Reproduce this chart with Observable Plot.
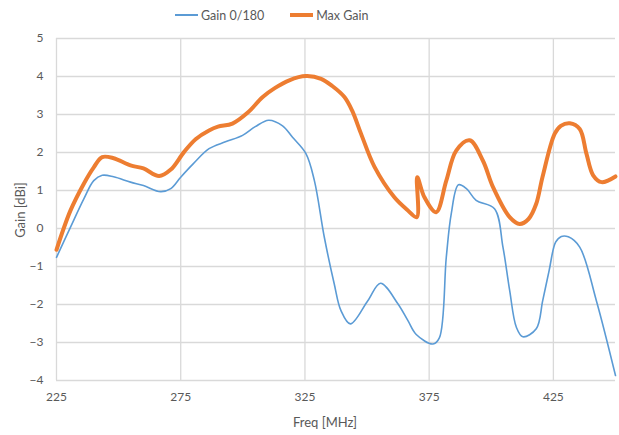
<!DOCTYPE html>
<html>
<head>
<meta charset="utf-8">
<script src="https://cdn.jsdelivr.net/npm/d3@7"></script>
<script src="https://cdn.jsdelivr.net/npm/@observablehq/plot@0.6"></script>
<style>
  html, body { margin: 0; padding: 0; background: #fff; }
  #wrap { position: relative; width: 619px; height: 435px; font-family: Lato, "Open Sans", sans-serif; color: #595959; }
  #legend { height: 30px; display: flex; justify-content: flex-start; align-items: center; font-size: 12.5px; padding-left: 175px; box-sizing: border-box; }
  .item { display: flex; align-items: center; margin-right: 26px; }
  .sw { width: 23px; margin-right: 3px; }
  #ylab { position: absolute; left: 20px; top: 210px; transform: translate(-50%, -50%) rotate(-90deg); font-size: 13px; white-space: nowrap; }
  #xlab { position: absolute; left: 325px; top: 422px; transform: translate(-50%, -50%); font-size: 13px; white-space: nowrap; }
</style>
</head>
<body>
<div id="wrap">
  <div id="legend"></div>
  <div id="chart"></div>
  <div id="ylab">Gain [dBi]</div>
  <div id="xlab">Freq [MHz]</div>
</div>
<script>
const seriesNames = ["Gain 0/180", "Max Gain"];
const seriesColors = ["#5b9bd5", "#ed7d31"];
const seriesWidths = [1.6, 4];

const gainFreq = [225, 230.6, 236, 240, 243.4, 248, 254.8, 260, 266.9, 271, 275, 280, 286.4, 293, 299.9, 305, 310.4, 316, 320, 325.4, 328.8, 332.8, 336.8, 339.5, 343.3, 350.3, 355.4, 362.4, 366.4, 369.8, 376.5, 379.1, 381.9, 383.9, 386.8, 390, 393.9, 401.3, 404.7, 407.4, 410.1, 412.7, 418.1, 420.7, 423.3, 425.9, 428.2, 431, 435.6, 442.3, 450];
const gainVal = [-0.76, 0.03, 0.78, 1.26, 1.40, 1.36, 1.22, 1.13, 0.97, 1.05, 1.35, 1.70, 2.10, 2.28, 2.45, 2.68, 2.85, 2.70, 2.40, 1.97, 1.26, -0.23, -1.46, -2.16, -2.51, -1.90, -1.44, -1.98, -2.42, -2.79, -3.04, -2.88, -0.75, 0.39, 1.15, 1.05, 0.74, 0.52, -0.49, -1.63, -2.60, -2.85, -2.64, -1.90, -1.10, -0.36, -0.21, -0.22, -0.49, -1.90, -3.87];

const maxFreq = [225, 230.6, 236, 240, 243.4, 248, 254.8, 260, 266.3, 271, 276.3, 281, 286.4, 290, 295.8, 302, 308, 313, 318.7, 325.4, 331.5, 336, 340.9, 344, 347.6, 353, 361, 366, 370, 370.2, 373.1, 377.8, 381.9, 385.9, 391.3, 396.6, 400.7, 407.4, 411.4, 415, 418.1, 420.6, 425.5, 428, 431.6, 435.6, 438.3, 441, 444.4, 450];
const maxVal = [-0.56, 0.47, 1.18, 1.61, 1.88, 1.85, 1.66, 1.58, 1.38, 1.55, 2.01, 2.35, 2.58, 2.68, 2.76, 3.05, 3.46, 3.70, 3.90, 4.01, 3.94, 3.75, 3.46, 3.10, 2.49, 1.62, 0.82, 0.50, 0.30, 1.35, 0.82, 0.43, 1.26, 2.05, 2.32, 1.79, 1.09, 0.30, 0.12, 0.25, 0.65, 1.35, 2.49, 2.70, 2.77, 2.62, 1.97, 1.40, 1.22, 1.37];

const xTicks = [225, 275, 325, 375, 425];
const yTicks = [-4, -3, -2, -1, 0, 1, 2, 3, 4, 5];

const gainData = gainFreq.map((f, i) => ({f, v: gainVal[i]}));
const maxData = maxFreq.map((f, i) => ({f, v: maxVal[i]}));

// legend
const legend = document.getElementById("legend");
seriesNames.forEach((n, i) => {
  const it = document.createElement("div");
  it.className = "item";
  const sw = document.createElement("div");
  sw.className = "sw";
  sw.style.height = seriesWidths[i] + "px";
  sw.style.background = seriesColors[i];
  const t = document.createElement("span");
  t.textContent = n;
  it.appendChild(sw); it.appendChild(t);
  legend.appendChild(it);
});

const chart = Plot.plot({
  width: 619,
  height: 405,
  marginTop: 8,
  marginBottom: 55,
  marginLeft: 56,
  marginRight: 4,
  style: {fontFamily: "Lato, 'Open Sans', sans-serif", fontSize: "12px", color: "#595959", background: "#fff"},
  x: {domain: [225, 450]},
  y: {domain: [-4, 5]},
  marks: [
    Plot.gridX(xTicks, {stroke: "#d9d9d9", strokeOpacity: 1, strokeWidth: 1.3}),
    Plot.gridY(yTicks, {stroke: "#d9d9d9", strokeOpacity: 1, strokeWidth: 1.3}),
    Plot.axisX(xTicks, {tickSize: 0, tickPadding: 12, label: null, fill: "#595959"}),
    Plot.axisY(yTicks, {tickSize: 0, tickPadding: 13, label: null, fill: "#595959"}),
    Plot.line(gainData, {x: "f", y: "v", stroke: seriesColors[0], strokeWidth: seriesWidths[0], curve: "catmull-rom"}),
    Plot.line(maxData, {x: "f", y: "v", stroke: seriesColors[1], strokeWidth: seriesWidths[1], curve: "catmull-rom"})
  ]
});
document.getElementById("chart").appendChild(chart);
</script>
</body>
</html>
